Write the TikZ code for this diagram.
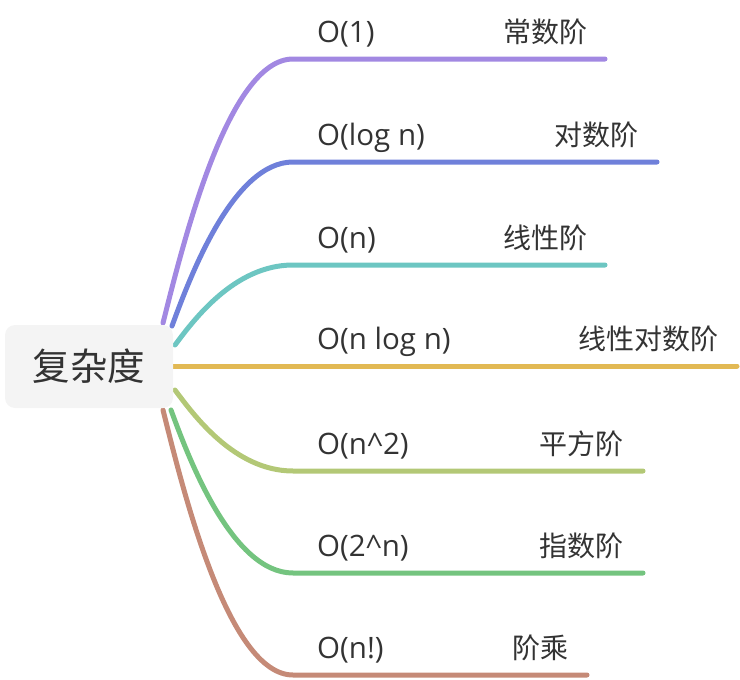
\documentclass[tikz,border=0pt]{standalone}
\usepackage{fontspec}
\setmainfont{Open Sans}
\newfontfamily\cjk{Noto Sans CJK SC}
\usetikzlibrary{backgrounds}
\definecolor{txt}{HTML}{333333}
\definecolor{rootfill}{HTML}{F4F4F4}
\definecolor{cA}{HTML}{A288E2}
\definecolor{cB}{HTML}{6F80DA}
\definecolor{cC}{HTML}{6DC6C2}
\definecolor{cD}{HTML}{E2B954}
\definecolor{cE}{HTML}{B3C876}
\definecolor{cF}{HTML}{74C47F}
\definecolor{cG}{HTML}{C58A77}
\tikzset{
  rootbox/.style={fill=rootfill, rounded corners=10pt, minimum width=168pt, minimum height=83pt, inner sep=0pt, text=txt, font=\cjk\fontsize{37.5}{40}\selectfont},
  lefttxt/.style={anchor=base west, inner sep=0pt, text=txt, font=\fontsize{29.5}{31}\selectfont},
  righttxt/.style={anchor=base east, inner sep=0pt, text=txt, font=\cjk\fontsize{28}{30}\selectfont},
  branch/.style={line width=5pt, line cap=round},
}
\begin{document}
\begin{tikzpicture}[x=1pt,y=-1pt]
\useasboundingbox (0,0) rectangle (740,680);
\node[rootbox] (root) at (89,366.5) {复杂度};
% branch start points
\coordinate (s1) at (163,323);
\coordinate (s2) at (172,326);
\coordinate (s3) at (175,345);
\coordinate (s4) at (170,366);
\coordinate (s5) at (175,390);
\coordinate (s6) at (171,410);
\coordinate (s7) at (163,410);
% junctions
\coordinate (j1) at (293,59);
\coordinate (j2) at (293,162);
\coordinate (j3) at (293,265);
\coordinate (j5) at (293,471);
\coordinate (j6) at (293,573);
\coordinate (j7) at (293,675);
% ends
\coordinate (e1) at (605,59);
\coordinate (e2) at (657,162);
\coordinate (e3) at (605,265);
\coordinate (e4) at (737,366);
\coordinate (e5) at (643,471);
\coordinate (e6) at (643,573);
\coordinate (e7) at (587,675);
% labels
\node[lefttxt] (l1) at (317,42) {O(1)};
\node[lefttxt] (l2) at (317,145) {O(log n)};
\node[lefttxt] (l3) at (317,248) {O(n)};
\node[lefttxt] (l4) at (317,349) {O(n log n)};
\node[lefttxt] (l5) at (317,454) {O(n\^{}2)};
\node[lefttxt] (l6) at (317,556) {O(2\^{}n)};
\node[lefttxt] (l7) at (317,658) {O(n!)};
\node[righttxt] (r1) at (588,42) {常数阶};
\node[righttxt] (r2) at (639,145) {对数阶};
\node[righttxt] (r3) at (588,248) {线性阶};
\node[righttxt] (r4) at (719,349) {线性对数阶};
\node[righttxt] (r5) at (624,454) {平方阶};
\node[righttxt] (r6) at (624,556) {指数阶};
\node[righttxt] (r7) at (569,658) {阶乘};
\begin{scope}[on background layer]
\draw[branch, cA] (s1) .. controls +(20,-79) and +(-65,0) .. (j1) -- (e1);
\draw[branch, cB] (s2) .. controls +(18,-49) and +(-60,0) .. (j2) -- (e2);
\draw[branch, cC] (s3) .. controls +(18,-24) and +(-59,0) .. (j3) -- (e3);
\draw[branch, cD] (s4) -- (e4);
\draw[branch, cE] (s5) .. controls +(18,24) and +(-59,0) .. (j5) -- (e5);
\draw[branch, cF] (s6) .. controls +(18,49) and +(-61,0) .. (j6) -- (e6);
\draw[branch, cG] (s7) .. controls +(20,80) and +(-65,0) .. (j7) -- (e7);
\end{scope}
\end{tikzpicture}
\end{document}
